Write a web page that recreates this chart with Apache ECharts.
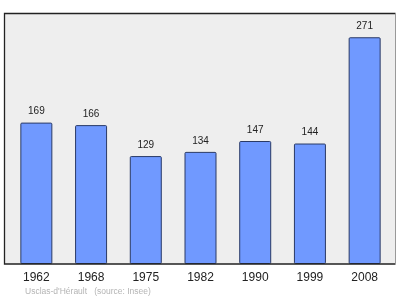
<!DOCTYPE html>
<html>
<head>
<meta charset="utf-8">
<script src="https://cdn.jsdelivr.net/npm/echarts@6/dist/echarts.min.js"></script>
<style>html,body{margin:0;padding:0;background:#fff;}#c{width:400px;height:299px;}</style>
</head>
<body>
<div id="c"></div>
<script>
const categories = ['1962', '1968', '1975', '1982', '1990', '1999', '2008'];
const population = [169, 166, 129, 134, 147, 144, 271];
const footer = "Usclas-d'Hérault   (source: Insee)";

const chart = echarts.init(document.getElementById('c'), null, {renderer: 'canvas'});
chart.setOption({
  animation: false,
  backgroundColor: '#ffffff',
  grid: {left: 9, right: 8, top: 13, bottom: 35, containLabel: false},
  xAxis: {
    type: 'category',
    data: categories,
    axisLine: {show: false},
    axisTick: {show: false},
    axisLabel: {color: '#222', fontSize: 12, fontFamily: 'Liberation Sans, Arial, sans-serif', margin: 8}
  },
  yAxis: {
    type: 'value', min: 0, max: 300,
    show: false,
    splitLine: {show: false}
  },
  graphic: [
    {type: 'rect', z: -10, shape: {x: 4.5, y: 13.5, width: 391, height: 250.5},
     style: {fill: '#eeeeee', stroke: null}},
    {type: 'polyline', z: 10, shape: {points: [[395.5, 13.5], [4.5, 13.5], [4.5, 264], [395.5, 264]]},
     style: {stroke: '#222', lineWidth: 1.3, fill: null}},
    {type: 'line', z: 10, shape: {x1: 395.5, y1: 13.5, x2: 395.5, y2: 264},
     style: {stroke: '#999', lineWidth: 1}},
    {type: 'text', left: 25, top: 287,
     style: {text: footer, fill: '#b4b4b4', fontSize: 8.5, fontFamily: 'Liberation Sans, Arial, sans-serif'}}
  ],
  series: [{
    type: 'bar',
    data: population,
    barWidth: 32,
    itemStyle: {color: '#7099ff', borderColor: '#2a3a66', borderWidth: 1, borderRadius: 1},
    label: {show: true, position: 'top', distance: 6, color: '#222', fontSize: 10,
            fontFamily: 'Liberation Sans, Arial, sans-serif'}
  }]
});
</script>
</body>
</html>
